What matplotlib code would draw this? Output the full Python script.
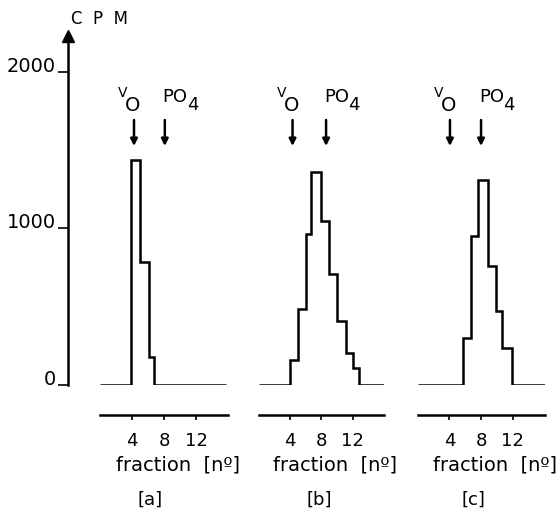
import matplotlib
matplotlib.use("Agg")
import matplotlib.pyplot as plt
from matplotlib.transforms import offset_copy

# fraction edges and counts (CPM)
a_edges = [0, 3.84, 5.04, 6.1, 6.75, 15.8]
a_cpm = [0, 1436, 788, 179, 0]
b_edges = [0, 3.97, 5.04, 5.99, 6.67, 7.95, 9.01, 10.04, 11.15, 12.09, 12.86, 16]
b_cpm = [0, 160, 487, 968, 1361, 1047, 711, 406, 205, 109, 0]
c_edges = [0, 5.73, 6.67, 7.63, 8.86, 9.87, 10.59, 11.86, 16]
c_cpm = [0, 299, 955, 1308, 758, 476, 235, 0]

vo_pos = [4.25, 4.3, 4.08]
po4_pos = [8.1, 8.6, 8.0]
panel_names = ["[a]", "[b]", "[c]"]
x_ticks = [4, 8, 12]
y_ticks = [0, 1000, 2000]

plt.rcParams["font.family"] = "DejaVu Sans"

W, H = 560, 516
fig = plt.figure(figsize=(5.6, 5.16), dpi=100)

# panel geometry in pixels (left, width) and shared vertical extent
lefts = [100, 259, 417.6]
widths = [128, 124.8, 126.9]
bottom_px, top_px = 131, 480
ymax = 2230
name_x = [0.39, 0.48, 0.44]

data = [(a_edges, a_cpm), (b_edges, b_cpm), (c_edges, c_cpm)]

for i, (edges, cpm) in enumerate(data):
    ax = fig.add_axes([lefts[i] / W, bottom_px / H, widths[i] / W,
                       (top_px - bottom_px) / H])
    ax.stairs(cpm, edges, color="black", lw=1.8)
    ax.set_xlim(0, 16)
    ax.set_ylim(0, ymax)
    ax.patch.set_alpha(0)

    for s in ["top", "right"]:
        ax.spines[s].set_visible(False)
    ax.spines["bottom"].set_position(("outward", 21.6))
    ax.spines["bottom"].set_linewidth(1.8)
    ax.set_xticks(x_ticks)
    ax.tick_params(axis="x", direction="out", length=3.6, width=1.2,
                   pad=9, labelsize=13)

    if i == 0:
        ax.spines["left"].set_position(("outward", 23.04))
        ax.spines["left"].set_linewidth(1.8)
        ax.spines["left"].set_bounds(0, ymax)
        ax.set_yticks(y_ticks)
        ax.set_yticklabels([str(v) for v in y_ticks], va="baseline")
        ax.tick_params(axis="y", direction="out", length=7.2, width=1.2,
                       pad=1.5, labelsize=14)
        tr = offset_copy(ax.transAxes, fig, x=-23.04, y=0, units="points")
        ax.plot([0], [1], marker="^", markersize=8, color="black",
                transform=tr, clip_on=False)
        ax.text(0, 1, "C  P  M", transform=offset_copy(ax.transAxes, fig, x=-21, y=12, units="points"),
                fontsize=12, ha="left", va="center")
    else:
        ax.spines["left"].set_visible(False)
        ax.set_yticks([])

    # elution markers
    for x in (vo_pos[i], po4_pos[i]):
        ax.annotate("", xy=(x, 1527), xytext=(x, 1693),
                    arrowprops=dict(arrowstyle="-|>", lw=1.8, color="black",
                                    mutation_scale=10, shrinkA=0, shrinkB=0))
    v = vo_pos[i]
    ax.text(v, 1866, "V", fontsize=10, ha="center", va="center",
            transform=offset_copy(ax.transData, fig, x=-8, y=0, units="points"))
    ax.text(v, 1789, "O", fontsize=14, ha="center", va="center",
            transform=offset_copy(ax.transData, fig, x=-1, y=0, units="points"))
    p = po4_pos[i]
    ax.text(p, 1843, "PO", fontsize=13, ha="left", va="center",
            transform=offset_copy(ax.transData, fig, x=-1.5, y=0, units="points"))
    ax.text(p, 1786, "4", fontsize=13, ha="left", va="center",
            transform=offset_copy(ax.transData, fig, x=16, y=0, units="points"))

    ax.set_xlabel("fraction  [nº]", fontsize=14)
    ax.xaxis.set_label_coords(0.61, -0.203)
    ax.text(name_x[i], -0.33, panel_names[i], transform=ax.transAxes,
            fontsize=13, ha="center", va="center")

fig.savefig("out.png", dpi=100)
